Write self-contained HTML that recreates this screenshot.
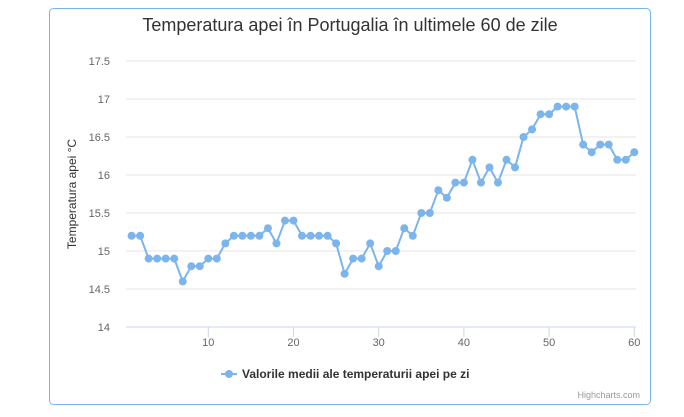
<!DOCTYPE html>
<html><head><meta charset="utf-8"><style>
html,body{margin:0;padding:0;background:#fff;width:684px;height:417px;overflow:hidden}
svg{display:block;font-family:"Liberation Sans","DejaVu Sans",sans-serif}
</style></head><body>
<svg width="684" height="417" id="chart">
<rect x="49.5" y="8.5" width="601" height="396" rx="4" fill="#fff" stroke="#7cb5ec"/>
<text x="350" y="31" text-anchor="middle" font-size="18" fill="#333">Temperatura apei în Portugalia în ultimele 60 de zile</text>
<text transform="translate(76,194) rotate(-90)" text-anchor="middle" font-size="12" fill="#333">Temperatura apei °C</text>
<g id="grid"></g><g id="xaxis"></g><g id="series"></g>
<g>
<line x1="221" y1="374" x2="237" y2="374" stroke="#7cb5ec" stroke-width="2"/>
<circle cx="229" cy="374" r="4" fill="#7cb5ec"/>
<text x="242" y="378" font-size="12" font-weight="bold" fill="#333">Valorile medii ale temperaturii apei pe zi</text>
</g>
<text x="640" y="398" text-anchor="end" font-size="9" fill="#999">Highcharts.com</text>
</svg>
<script>
const days=[1,2,3,4,5,6,7,8,9,10,11,12,13,14,15,16,17,18,19,20,21,22,23,24,25,26,27,28,29,30,31,32,33,34,35,36,37,38,39,40,41,42,43,44,45,46,47,48,49,50,51,52,53,54,55,56,57,58,59,60];
const temps=[15.2,15.2,14.9,14.9,14.9,14.9,14.6,14.8,14.8,14.9,14.9,15.1,15.2,15.2,15.2,15.2,15.3,15.1,15.4,15.4,15.2,15.2,15.2,15.2,15.1,14.7,14.9,14.9,15.1,14.8,15.0,15.0,15.3,15.2,15.5,15.5,15.8,15.7,15.9,15.9,16.2,15.9,16.1,15.9,16.2,16.1,16.5,16.6,16.8,16.8,16.9,16.9,16.9,16.4,16.3,16.4,16.4,16.2,16.2,16.3];
const yTicks=[14,14.5,15,15.5,16,16.5,17,17.5];
const yTickLabels=["14","14.5","15","15.5","16","16.5","17","17.5"];
const xTicks=[10,20,30,40,50,60];
const NS="http://www.w3.org/2000/svg";
const L=126,R=636;
function X(v){return 123.1+8.52*v;}
function Y(v){return 327-(v-14)*76;}
function mk(t,a,p){const e=document.createElementNS(NS,t);for(const k in a)e.setAttribute(k,a[k]);p.appendChild(e);return e;}
const grid=document.getElementById('grid');
yTicks.forEach((t,i)=>{
  const l=mk('line',{x1:L,x2:R,y1:Y(t),y2:Y(t),stroke:t===14?'#ccd6eb':'#e6e6e6','stroke-width':1},grid);
  
  
  const tx=mk('text',{x:110,y:Y(t)+4,'text-anchor':'end','font-size':11,fill:'#666'},grid);
  tx.textContent=yTickLabels[i];
  
  
});
const xa=document.getElementById('xaxis');
xTicks.forEach(t=>{
  const l=mk('line',{x1:X(t),x2:X(t),y1:327,y2:337,stroke:'#ccd6eb'},xa);
  
  
  const tx=mk('text',{x:X(t),y:346,'text-anchor':'middle','font-size':11,fill:'#666'},xa);
  tx.textContent=t;
  
  
});
const s=document.getElementById('series');
const path=mk('polyline',{points:days.map((d,i)=>X(d)+','+Y(temps[i])).join(' '),fill:'none',stroke:'#7cb5ec','stroke-width':2},s);


days.forEach((d,i)=>{
  const c=mk('circle',{cx:X(d),cy:Y(temps[i]),r:4,fill:'#7cb5ec'},s);
  
  
});
</script>
</body></html>
